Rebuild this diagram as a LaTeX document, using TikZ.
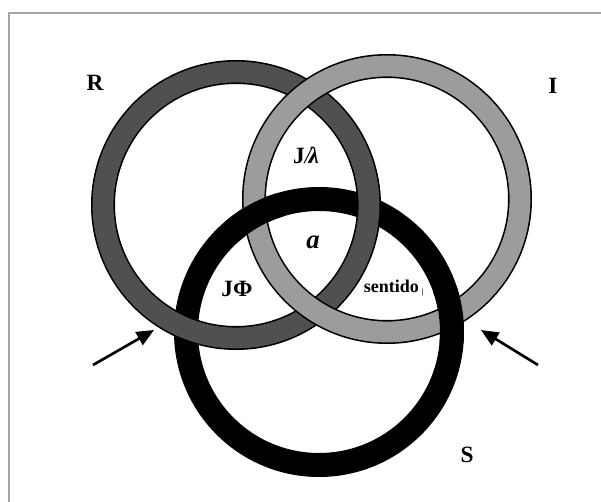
\documentclass[tikz,border=0pt]{standalone}
\usepackage{fontspec}
\setmainfont{Liberation Serif}
\usetikzlibrary{arrows.meta}
\definecolor{ringR}{HTML}{505050}
\definecolor{ringI}{HTML}{9C9C9C}
\definecolor{framecol}{HTML}{A6A6A6}
\tikzset{
  ringout/.style={draw=black, line width=18pt},
  ringin/.style={draw=#1, line width=15.6pt},
  lab/.style={font=\bfseries\fontsize{17.5}{19}\selectfont, inner sep=0pt},
  pointer/.style={draw=black, line width=2pt, -{Triangle[length=13pt,width=11pt]}}
}
\begin{document}
\begin{tikzpicture}[x=0.75pt,y=-0.75pt]
\useasboundingbox (0,0) rectangle (601,502);
\fill[white] (0,0) rectangle (601,502);
% frame
\draw[framecol, line width=1.5pt] (8.5,502) -- (8.5,13.5) -- (601,13.5);
% centres
\coordinate (cR) at (236,205);
\coordinate (cI) at (387,199);
\coordinate (cS) at (319,332);
% S ring (black)
\draw[ringout] (cS) circle[radius=133];
% R ring
\draw[ringout] (cR) circle[radius=133];
\draw[ringin=ringR] (cR) circle[radius=133];
% I ring
\draw[ringout] (cI) circle[radius=133];
\draw[ringin=ringI] (cI) circle[radius=133];
% S over I at both crossings
\begin{scope}
  \clip (255,215.5) circle[radius=30] (451,315.5) circle[radius=30];
  \draw[ringout] (cS) circle[radius=133];
\end{scope}
% labels
\node[lab] (R) at (95,83) {R};
\node[lab] (I) at (553,86) {I};
\node[lab] (S) at (467,455) {S};
\node[lab] (JPhi) at (237,289) {JΦ};
\node[lab] (JA) at (306,155) {J{\mdseries\itshape/}\kern-2pt{\itshape λ}};
\node[lab, font=\bfseries\itshape\fontsize{20}{22}\selectfont] (a) at (313,242) {a};
\node[lab, font=\bfseries\fontsize{13.5}{15}\selectfont, fill=white, inner sep=1.2pt, anchor=west] (sent) at (362,288) {sentido\kern2pt{\fontsize{6}{6}\selectfont\raisebox{-1pt}{|}}};
% arrows
\coordinate (la) at (93,365);
\coordinate (lb) at (154,330);
\coordinate (ra) at (538,365);
\coordinate (rb) at (481,330);
\draw[pointer] (la) -- (lb);
\draw[pointer] (ra) -- (rb);
\end{tikzpicture}
\end{document}
